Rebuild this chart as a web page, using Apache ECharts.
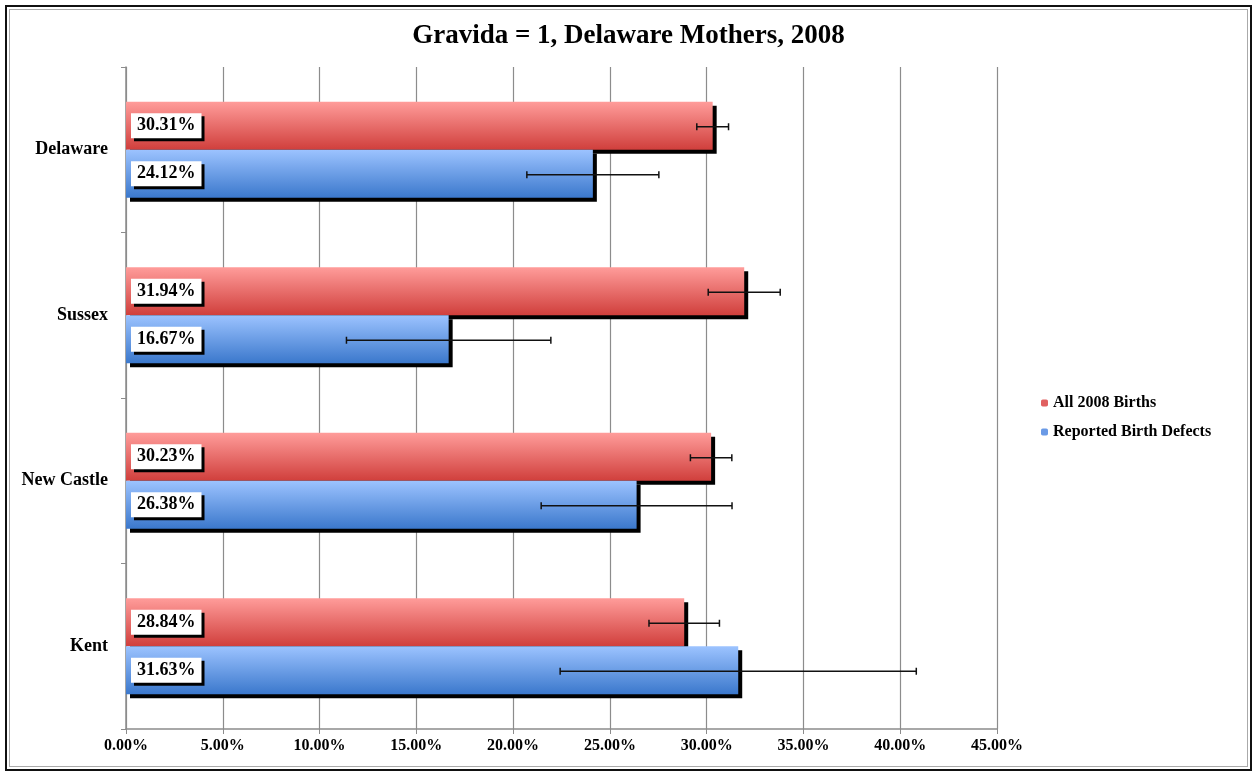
<!DOCTYPE html>
<html>
<head>
<meta charset="utf-8">
<title>Gravida = 1, Delaware Mothers, 2008</title>
<script src="https://cdn.jsdelivr.net/npm/echarts@6/dist/echarts.min.js"></script>
<style>
  html, body { margin: 0; padding: 0; background: #fff; }
  #wrap { position: relative; width: 1257px; height: 774px; }
  #chart { position: absolute; left: 0; top: 0; width: 1257px; height: 774px; }
  #frame {
    position: absolute; left: 5px; top: 5px; width: 1243px; height: 762px;
    border: 2px solid #111; pointer-events: none;
  }
  #frame::after {
    content: ''; position: absolute; left: 2px; top: 2px; right: 2px; bottom: 2px;
    border: 1px solid #aaa;
  }
</style>
</head>
<body>
<div id="wrap">
  <div id="chart"></div>
  <div id="frame"></div>
</div>
<script>
// values in percent, top to bottom
const categories = ['Delaware', 'Sussex', 'New Castle', 'Kent'];
const allBirths = [30.31, 31.94, 30.23, 28.84];
const allBirthsErr = [0.82, 1.86, 1.07, 1.82];
const defects = [24.12, 16.67, 26.38, 31.63];
const defectsErr = [3.41, 5.28, 4.93, 9.20];
const xTicks = [0, 5, 10, 15, 20, 25, 30, 35, 40, 45];

const serif = '"Liberation Serif", "DejaVu Serif", serif';
const gapPct = 42;

const redGrad = new echarts.graphic.LinearGradient(0, 0, 0, 1, [
  { offset: 0, color: '#ff9c9a' },
  { offset: 1, color: '#d03f3c' }
]);
const blueGrad = new echarts.graphic.LinearGradient(0, 0, 0, 1, [
  { offset: 0, color: '#9cc3ff' },
  { offset: 1, color: '#3b78cc' }
]);

const barLabel = {
  show: true,
  position: 'insideLeft',
  distance: 5,
  formatter: p => p.value.toFixed(2) + '%',
  fontFamily: serif,
  fontWeight: 'bold',
  fontSize: 18,
  color: '#000',
  backgroundColor: '#fff',
  padding: [4, 6, 3, 6],
  shadowColor: '#000',
  shadowOffsetX: 3,
  shadowOffsetY: 3,
  shadowBlur: 0
};

// error bar data: [category index, low, high, which bar (0 top, 1 bottom)]
const errData = [];
categories.forEach((c, i) => {
  errData.push([i, allBirths[i] - allBirthsErr[i], allBirths[i] + allBirthsErr[i], 0]);
  errData.push([i, defects[i] - defectsErr[i], defects[i] + defectsErr[i], 1]);
});

function renderErr(params, api) {
  const cat = api.value(0);
  const band = api.size([0, 1])[1];
  const half = band * (1 - gapPct / 100) / 4;
  const off = api.value(3) === 0 ? -half : half;
  const p1 = api.coord([api.value(1), cat]);
  const p2 = api.coord([api.value(2), cat]);
  const y = p1[1] + off + 1;
  const cap = 3.5;
  const style = { stroke: '#111', lineWidth: 1.5 };
  return {
    type: 'group',
    children: [
      { type: 'line', shape: { x1: p1[0], y1: y, x2: p2[0], y2: y }, style },
      { type: 'line', shape: { x1: p1[0], y1: y - cap, x2: p1[0], y2: y + cap }, style },
      { type: 'line', shape: { x1: p2[0], y1: y - cap, x2: p2[0], y2: y + cap }, style }
    ]
  };
}

const chart = echarts.init(document.getElementById('chart'));
chart.setOption({
  animation: false,
  title: {
    text: 'Gravida = 1, Delaware Mothers, 2008',
    left: 'center',
    top: 18,
    textStyle: { fontFamily: serif, fontWeight: 'bold', fontSize: 27, color: '#000' }
  },
  legend: {
    orient: 'vertical',
    left: 1041,
    top: 395,
    padding: 0,
    itemWidth: 7,
    itemHeight: 7,
    itemGap: 13,
    data: [
      { name: 'All 2008 Births', itemStyle: { color: '#e06060', shadowBlur: 0, shadowOffsetX: 0, shadowOffsetY: 0, shadowColor: 'transparent' } },
      { name: 'Reported Birth Defects', itemStyle: { color: '#6a9ae6', shadowBlur: 0, shadowOffsetX: 0, shadowOffsetY: 0, shadowColor: 'transparent' } }
    ],
    textStyle: { fontFamily: serif, fontWeight: 'bold', fontSize: 16, color: '#000' }
  },
  grid: { left: 126, right: 260, top: 67, bottom: 45 },
  xAxis: {
    type: 'value',
    min: 0,
    max: 45,
    interval: 5,
    axisLine: { show: true, lineStyle: { color: '#8c8c8c', width: 1.5 } },
    axisTick: { show: true, length: 5, lineStyle: { color: '#8c8c8c' } },
    splitLine: { show: true, lineStyle: { color: '#8c8c8c', width: 1.2 } },
    axisLabel: {
      formatter: v => xTicks.indexOf(v) >= 0 ? v.toFixed(2) + '%' : '',
      fontFamily: serif, fontWeight: 'bold', fontSize: 16, color: '#000', margin: 9
    }
  },
  yAxis: {
    type: 'category',
    inverse: true,
    data: categories,
    axisLine: { show: true, lineStyle: { color: '#8c8c8c', width: 1.5 } },
    axisTick: { show: true, length: 5, lineStyle: { color: '#8c8c8c' } },
    axisLabel: { fontFamily: serif, fontWeight: 'bold', fontSize: 18, color: '#000', margin: 18 }
  },
  series: [
    {
      name: 'All 2008 Births',
      type: 'bar',
      data: allBirths,
      barGap: '0%',
      barCategoryGap: gapPct + '%',
      itemStyle: { color: redGrad, shadowColor: '#000', shadowOffsetX: 4, shadowOffsetY: 4, shadowBlur: 0 },
      label: barLabel
    },
    {
      name: 'Reported Birth Defects',
      type: 'bar',
      data: defects,
      barGap: '0%',
      barCategoryGap: gapPct + '%',
      itemStyle: { color: blueGrad, shadowColor: '#000', shadowOffsetX: 4, shadowOffsetY: 4, shadowBlur: 0 },
      label: barLabel
    },
    {
      name: 'errors',
      type: 'custom',
      renderItem: renderErr,
      encode: { x: [1, 2], y: 0 },
      data: errData,
      z: 10
    }
  ]
});
</script>
</body>
</html>
